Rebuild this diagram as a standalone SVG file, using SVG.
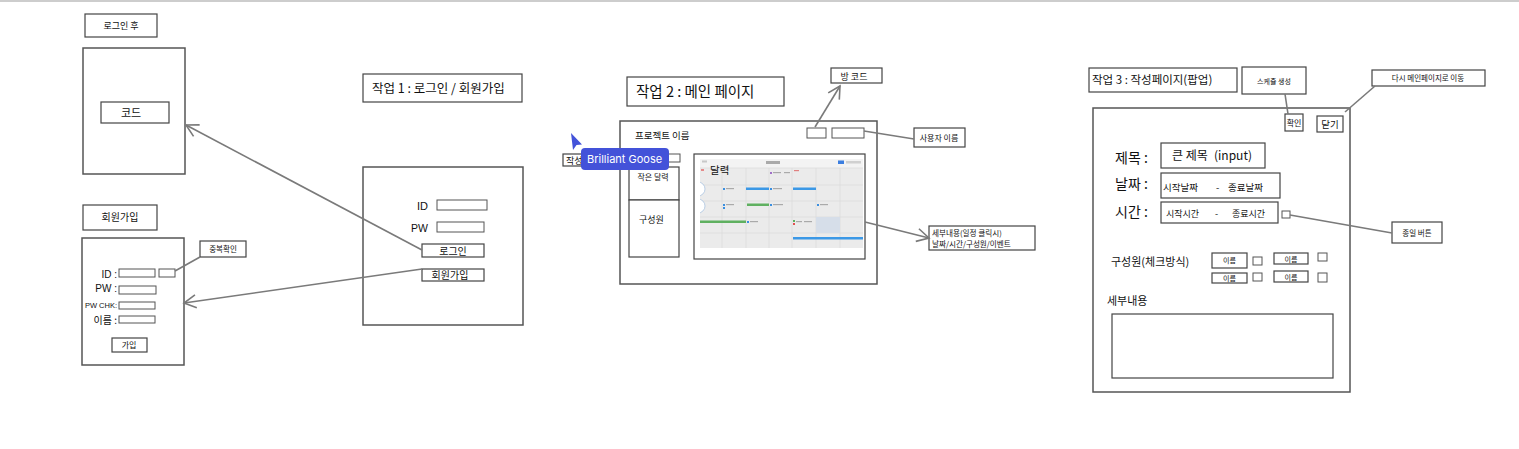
<svg xmlns="http://www.w3.org/2000/svg" width="1519" height="449" viewBox="0 0 1519 449">
<style>
.bx{fill:#fff;stroke:#444;stroke-width:1.2}
.fr{fill:#fff;stroke:#555;stroke-width:1.5}
.cb{fill:#fff;stroke:#555;stroke-width:1}
.conn{stroke:#7a7a7a;stroke-width:1.6;fill:none}
.k{font-family:"Noto Sans CJK KR","Noto Sans",sans-serif;fill:#111}
.l{font-family:"Liberation Sans","Noto Sans CJK KR",sans-serif;fill:#111}
.m{text-anchor:middle}
.e{text-anchor:end}
.g{stroke:#d6d6d6;stroke-width:0.6}
</style>
<defs>
<marker id="arr" markerUnits="userSpaceOnUse" markerWidth="16" markerHeight="16" refX="14" refY="8" orient="auto">
<path d="M2,1.5 L14,8 L2,14.5" fill="none" stroke="#7a7a7a" stroke-width="1.6"/>
</marker>
<clipPath id="calclip"><rect x="700" y="159" width="163" height="89"/></clipPath>
</defs>
<rect x="0" y="0" width="1519" height="449" fill="#fff"/>
<line x1="0" y1="1" x2="1519" y2="1" stroke="#bdbdbd" stroke-width="1.5"/>

<g id="login-after-title">
<rect class="bx" x="85" y="14" width="72" height="23"/>
<text class="k m" x="121" y="29" font-size="9">로그인 후</text>
</g>
<g id="code-page">
<rect class="fr" x="83" y="48" width="102" height="126"/>
<rect class="bx" x="101" y="102" width="68" height="21"/>
<text class="k m" x="131" y="117" font-size="11">코드</text>
</g>
<g id="signup-title">
<rect class="bx" x="83" y="205" width="74" height="25"/>
<text class="k m" x="120" y="221" font-size="10">회원가입</text>
</g>
<g id="signup-page">
<rect class="fr" x="82" y="238" width="102" height="127"/>
<text class="l e" x="117" y="278" font-size="10">ID :</text>
<rect class="cb" x="119" y="269" width="36" height="8"/>
<rect class="cb" x="159" y="269" width="16" height="8"/>
<text class="l e" x="117" y="292" font-size="10">PW :</text>
<rect class="cb" x="119" y="286" width="37" height="8"/>
<text class="l e" x="117" y="308" font-size="7.5">PW CHK:</text>
<rect class="cb" x="119" y="302" width="36" height="7"/>
<text class="k e" x="117" y="324" font-size="10">이름 :</text>
<rect class="cb" x="119" y="316" width="36" height="7"/>
<rect class="bx" x="112" y="338" width="35" height="14"/>
<text class="k m" x="129" y="348" font-size="8">가입</text>
</g>
<g id="dup-check">
<rect class="bx" x="200" y="241" width="46" height="16"/>
<text class="k m" x="223" y="252" font-size="7.5">중복확인</text>
</g>
<g id="task1-title">
<rect class="bx" x="363" y="74" width="159" height="28"/>
<text class="k" x="372" y="93" font-size="12.5">작업 1 : 로그인 / 회원가입</text>
</g>
<g id="login-page">
<rect class="fr" x="363" y="167" width="160" height="158"/>
<text class="l e" x="428" y="210" font-size="11">ID</text>
<rect class="cb" x="437" y="200" width="50" height="10"/>
<text class="l e" x="428" y="232" font-size="10.5">PW</text>
<rect class="cb" x="437" y="222" width="47" height="10"/>
<rect class="bx" x="422" y="244" width="62" height="13"/>
<text class="k m" x="453" y="254.5" font-size="10">로그인</text>
<rect class="bx" x="422" y="269" width="62" height="12"/>
<text class="k m" x="450" y="279" font-size="10">회원가입</text>
</g>

<g id="task2-title">
<rect class="bx" x="627" y="77" width="157" height="29"/>
<text class="k" x="636" y="97" font-size="14.5">작업 2 : 메인 페이지</text>
</g>
<g id="room-code">
<rect class="bx" x="831" y="68" width="51" height="15"/>
<text class="k m" x="854" y="79.5" font-size="9">방 코드</text>
</g>
<g id="user-name">
<rect class="bx" x="914" y="128" width="51" height="19"/>
<text class="k m" x="939" y="141" font-size="8">사용자 이름</text>
</g>
<g id="detail-note">
<rect class="bx" x="929" y="226" width="106" height="24"/>
<text class="k" x="932" y="236" font-size="7.6">세부내용(일정 클릭시)</text>
<text class="k" x="932" y="247" font-size="7.6">날짜/시간/구성원/이벤트</text>
</g>
<g id="main-page">
<rect class="fr" x="620" y="121" width="257" height="163"/>
<text class="k" x="635" y="139" font-size="9.5">프로젝트 이름</text>
<rect class="cb" x="807" y="128" width="19" height="10"/>
<rect class="cb" x="832" y="128" width="32" height="10"/>
<rect class="cb" x="645" y="154" width="35" height="8"/>
<rect class="bx" x="629" y="167" width="50" height="33"/>
<text class="k m" x="653" y="180" font-size="8">작은 달력</text>
<rect class="bx" x="629" y="200" width="50" height="57"/>
<text class="k" x="639" y="223" font-size="9">구성원</text>
<rect class="bx" x="694" y="154" width="171" height="105"/>
<g id="calendar-image">
<rect x="700" y="159" width="163" height="89" fill="#ebebeb"/>
<rect x="700" y="159" width="163" height="9" fill="#f3f3f3"/>
<g class="g">
<line x1="722" y1="168" x2="722" y2="248"/><line x1="746" y1="168" x2="746" y2="248"/>
<line x1="769" y1="168" x2="769" y2="248"/><line x1="792" y1="168" x2="792" y2="248"/>
<line x1="816" y1="168" x2="816" y2="248"/><line x1="840" y1="168" x2="840" y2="248"/>
<line x1="700" y1="168" x2="863" y2="168"/><line x1="700" y1="185" x2="863" y2="185"/>
<line x1="700" y1="201" x2="863" y2="201"/><line x1="700" y1="217" x2="863" y2="217"/>
<line x1="700" y1="233" x2="863" y2="233"/>
</g>
<rect x="766" y="161" width="14" height="3" fill="#aaa"/>
<rect x="838" y="160.5" width="6" height="3.5" fill="#3b7ee0"/>
<rect x="846" y="161" width="15" height="2.5" fill="#d0d0d0"/>
<rect x="702" y="160.5" width="5" height="2" fill="#c8c8c8"/>
<rect x="701" y="169" width="3" height="2" fill="#e58a8a"/>
<rect x="770" y="172" width="2" height="2" fill="#a070c8"/>
<rect x="773" y="172" width="8" height="1.2" fill="#aaa"/>
<rect x="784" y="172" width="6" height="1.2" fill="#aaa"/>
<rect x="794" y="170" width="5" height="1.2" fill="#e08080"/>
<rect x="723" y="188" width="2" height="2" fill="#3b8fe0"/>
<rect x="726" y="188" width="8" height="1.2" fill="#aaa"/>
<rect x="746" y="187.5" width="23" height="2.5" fill="#3b98e6"/>
<rect x="770" y="188" width="2" height="2" fill="#3b8fe0"/>
<rect x="773" y="188" width="9" height="1.2" fill="#aaa"/>
<rect x="793" y="187.5" width="23" height="2.5" fill="#3b98e6"/>
<rect x="723" y="204" width="2" height="2" fill="#3b8fe0"/>
<rect x="723" y="207" width="2" height="2" fill="#3b8fe0"/>
<rect x="726" y="204" width="8" height="1.2" fill="#aaa"/>
<rect x="747" y="203.5" width="22" height="2.5" fill="#5fb060"/>
<rect x="770" y="204" width="2" height="2" fill="#3b8fe0"/>
<rect x="773" y="204" width="10" height="1.2" fill="#aaa"/>
<rect x="817" y="204" width="2" height="2" fill="#3b8fe0"/>
<rect x="820" y="204" width="8" height="1.2" fill="#aaa"/>
<rect x="700" y="220.5" width="46" height="2.5" fill="#5fb060"/>
<rect x="747" y="221" width="2" height="2" fill="#3b8fe0"/>
<rect x="750" y="221" width="8" height="1.2" fill="#aaa"/>
<rect x="793" y="220" width="2" height="2" fill="#5fb060"/>
<rect x="793" y="223" width="2" height="2" fill="#e05050"/>
<rect x="796" y="221" width="6" height="1.2" fill="#aaa"/>
<rect x="804" y="221" width="8" height="1.2" fill="#aaa"/>
<rect x="816" y="217" width="24" height="16" fill="#d6dee9"/>
<rect x="793" y="237" width="70" height="2.5" fill="#3b98e6"/>
<g clip-path="url(#calclip)" fill="#fff" stroke="#a9c3e0" stroke-width="0.8">
<circle cx="698" cy="189" r="7"/>
<circle cx="698" cy="206" r="7"/>
</g>
<text class="k" x="710" y="174" font-size="10.5">달력</text>
</g>
</g>
<g id="write-label">
<rect class="bx" x="563" y="154" width="40" height="12"/>
<text class="k" x="566" y="163.5" font-size="9">작성</text>
</g>
<g id="cursor-brilliant-goose">
<polygon points="571,133 582,144.5 576.5,145 573,150" fill="#4352d9"/>
<rect x="581" y="148" width="88" height="22" rx="4" fill="#4352d9"/>
<text x="587" y="163" font-family="Inter,'Noto Sans',sans-serif" font-size="11" fill="#fff">Brilliant Goose</text>
</g>

<g id="task3-title">
<rect class="bx" x="1089" y="68" width="148" height="24"/>
<text class="k" x="1092" y="84" font-size="11.5">작업 3 : 작성페이지(팝업)</text>
</g>
<g id="create-schedule">
<rect class="bx" x="1242" y="67" width="64" height="27"/>
<text class="k m" x="1274" y="83.5" font-size="7">스케쥴 생성</text>
</g>
<g id="back-main">
<rect class="bx" x="1372" y="70" width="113" height="16"/>
<text class="k m" x="1428" y="81" font-size="7.5">다시 메인페이지로 이동</text>
</g>
<g id="allday-note">
<rect class="bx" x="1392" y="222" width="50" height="21"/>
<text class="k m" x="1417" y="235.5" font-size="7.5">종일 버튼</text>
</g>
<g id="write-page">
<rect class="fr" x="1093" y="108" width="257" height="284"/>
<rect class="bx" x="1285" y="114" width="18" height="17"/>
<text class="k m" x="1294" y="126" font-size="8">확인</text>
<rect class="bx" x="1317" y="116" width="26" height="16"/>
<text class="k m" x="1330" y="127.5" font-size="9.5">닫기</text>
<text class="k" x="1115" y="163" font-size="14">제목 :</text>
<rect class="bx" x="1161" y="143" width="104" height="25"/>
<text class="k" x="1172" y="159.5" font-size="12">큰 제목<tspan x="1214">(input)</tspan></text>
<text class="k" x="1115" y="189" font-size="14">날짜 :</text>
<rect class="bx" x="1161" y="173" width="119" height="25"/>
<text class="k" x="1163" y="191" font-size="9.5">시작날짜<tspan x="1216">-</tspan><tspan x="1228">종료날짜</tspan></text>
<text class="k" x="1115" y="217" font-size="14">시간 :</text>
<rect class="bx" x="1161" y="202" width="117" height="21"/>
<text class="k" x="1166" y="217" font-size="9">시작시간<tspan x="1215">-</tspan><tspan x="1232">종료시간</tspan></text>
<rect class="cb" x="1282" y="211" width="8" height="7"/>
<text class="k" x="1111" y="266" font-size="11">구성원(체크방식)</text>
<rect class="bx" x="1212" y="253" width="35" height="15"/>
<text class="k m" x="1229.5" y="263" font-size="7">이름</text>
<rect class="cb" x="1253" y="257" width="9" height="8"/>
<rect class="bx" x="1274" y="253" width="34" height="11"/>
<text class="k m" x="1291" y="261.5" font-size="7">이름</text>
<rect class="cb" x="1318" y="253" width="9" height="8"/>
<rect class="bx" x="1212" y="273" width="35" height="10"/>
<text class="k m" x="1229.5" y="281" font-size="7">이름</text>
<rect class="cb" x="1253" y="273" width="9" height="8"/>
<rect class="bx" x="1274" y="271" width="34" height="11"/>
<text class="k m" x="1291" y="279.5" font-size="7">이름</text>
<rect class="cb" x="1318" y="273" width="9" height="9"/>
<text class="k" x="1107" y="305" font-size="11">세부내용</text>
<rect class="bx" x="1112" y="314" width="221" height="64"/>
</g>

<g id="connectors">
<line class="conn" x1="422" y1="250" x2="186" y2="125" marker-end="url(#arr)"/>
<line class="conn" x1="422" y1="269" x2="184" y2="303" marker-end="url(#arr)"/>
<line class="conn" x1="200" y1="257" x2="175" y2="271"/>
<line class="conn" x1="815" y1="127" x2="840" y2="86" marker-end="url(#arr)"/>
<line class="conn" x1="864" y1="131" x2="914" y2="139"/>
<line class="conn" x1="865" y1="222" x2="929" y2="238" marker-end="url(#arr)"/>
<line class="conn" x1="1285" y1="94" x2="1288" y2="114"/>
<line class="conn" x1="1375" y1="86" x2="1345" y2="112"/>
<line class="conn" x1="1290" y1="215" x2="1392" y2="233"/>
</g>
</svg>
